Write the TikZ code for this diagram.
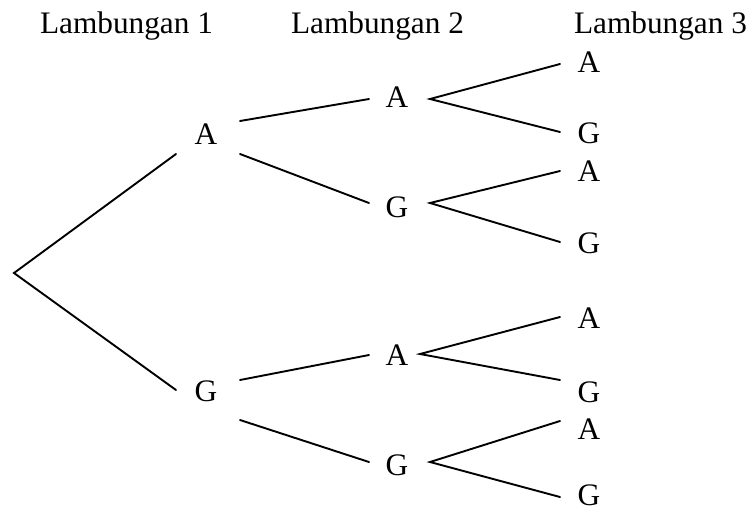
\documentclass[tikz,border=0pt]{standalone}
\usepackage{fontspec}
\setmainfont{Liberation Serif}
\begin{document}
\begin{tikzpicture}[x=1pt,y=-1pt,
  lbl/.style={anchor=base,inner sep=0pt,font=\fontsize{31.3}{36}\selectfont},
  branch/.style={line width=1.9pt,line cap=round,line join=miter}]
\useasboundingbox (0,0) rectangle (755,512);
% headers
\node[lbl] (h1) at (126.5,33) {Lambungan 1};
\node[lbl] (h2) at (377.5,33) {Lambungan 2};
\node[lbl] (h3) at (660.5,33) {Lambungan 3};
% level 1
\node[lbl] (a) at (206,144) {A};
\node[lbl] (g) at (206,401) {G};
% level 2
\node[lbl] (aa) at (397,107.5) {A};
\node[lbl] (ag) at (397,217) {G};
\node[lbl] (ga) at (397,365) {A};
\node[lbl] (gg) at (397,475) {G};
% level 3
\node[lbl] (aaa) at (589,72) {A};
\node[lbl] (aag) at (589,143) {G};
\node[lbl] (aga) at (589,181) {A};
\node[lbl] (agg) at (589,253) {G};
\node[lbl] (gaa) at (589,328) {A};
\node[lbl] (gag) at (589,402) {G};
\node[lbl] (gga) at (589,439) {A};
\node[lbl] (ggg) at (589,505) {G};
% connector end points
\coordinate (root) at (14,273);
\coordinate (a-in) at (176,154);
\coordinate (g-in) at (176,390);
\coordinate (a-out1) at (240,121);
\coordinate (a-out2) at (240,154);
\coordinate (g-out1) at (240,380);
\coordinate (g-out2) at (240,420);
\coordinate (aa-in) at (369,99);
\coordinate (ag-in) at (369,203);
\coordinate (ga-in) at (369,355);
\coordinate (gg-in) at (369,462);
\coordinate (aa-out) at (430,99);
\coordinate (ag-out) at (430,203);
\coordinate (ga-out) at (420,354);
\coordinate (gg-out) at (430,462);
\coordinate (aaa-in) at (560,64);
\coordinate (aag-in) at (560,132);
\coordinate (aga-in) at (560,171);
\coordinate (agg-in) at (560,242);
\coordinate (gaa-in) at (560,317);
\coordinate (gag-in) at (560,380);
\coordinate (gga-in) at (560,421);
\coordinate (ggg-in) at (560,497);
% branches
\draw[branch] (a-in) -- (root) -- (g-in);
\draw[branch] (a-out1) -- (aa-in);
\draw[branch] (a-out2) -- (ag-in);
\draw[branch] (g-out1) -- (ga-in);
\draw[branch] (g-out2) -- (gg-in);
\draw[branch] (aaa-in) -- (aa-out) -- (aag-in);
\draw[branch] (aga-in) -- (ag-out) -- (agg-in);
\draw[branch] (gaa-in) -- (ga-out) -- (gag-in);
\draw[branch] (gga-in) -- (gg-out) -- (ggg-in);
\end{tikzpicture}
\end{document}
